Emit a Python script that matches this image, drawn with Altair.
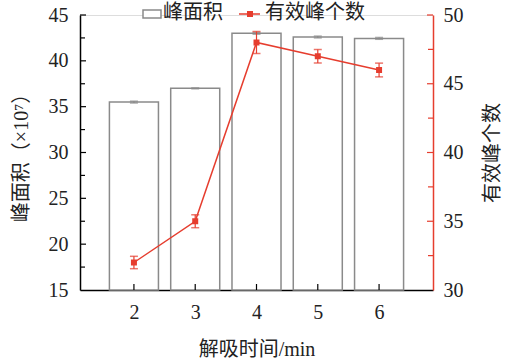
import altair as alt
import pandas as pd

# ---- data ----
times = [2, 3, 4, 5, 6]
area = [35.5, 37.0, 43.0, 42.6, 42.45]
area_err = [0.1, 0.05, 0.1, 0.1, 0.1]
peaks = [32.0, 35.0, 48.0, 47.0, 46.0]
peaks_err = [0.45, 0.47, 0.8, 0.49, 0.5]
left_major = [20, 25, 30, 35, 40, 45]
left_minor = [17.5, 22.5, 27.5, 32.5, 37.5, 42.5]
right_major = [35, 40, 45, 50]
right_minor = [32.5, 37.5, 42.5, 47.5]
legend_labels = ["峰面积", "有效峰个数"]

RED = "#e63d2e"
GRAY = "#8a8a8a"
FONT = "Liberation Serif, Noto Sans CJK SC"
W, H = 353, 275
XDOM = [1.12, 6.88]
BW = 0.4

df = pd.DataFrame({
    "t": times,
    "area": area,
    "area_lo": [a - e for a, e in zip(area, area_err)],
    "area_hi": [a + e for a, e in zip(area, area_err)],
    "peaks": peaks,
    "pk_lo": [p - e for p, e in zip(peaks, peaks_err)],
    "pk_hi": [p + e for p, e in zip(peaks, peaks_err)],
})
df["x0"] = df["t"] - BW
df["x1"] = df["t"] + BW

xscale = alt.Scale(domain=XDOM, nice=False, zero=False)
yl = alt.Scale(domain=[15, 45], nice=False, zero=False)
yr = alt.Scale(domain=[30, 50], nice=False, zero=False)

X_AX = alt.Axis(values=times, title="解吸时间/min", ticks=False, grid=False,
                domainColor="black", domainWidth=1.5, labelFont=FONT, labelFontSize=20,
                labelColor="#222", labelPadding=12, titleFont=FONT, titleFontSize=20,
                titleFontWeight="normal", titleColor="#222", titlePadding=17)
YL_AX = alt.Axis(values=[15, 20, 25, 30, 35, 40, 45], title="峰面积（×10⁷）", ticks=False,
                 grid=False, domainColor="black", domainWidth=1.5, labelFont=FONT,
                 labelFontSize=20, labelColor="#222", labelPadding=12, titleFont=FONT,
                 titleFontSize=20, titleFontWeight="normal", titleColor="#222", titlePadding=17)
YR_AX = alt.Axis(orient="right", values=[30, 35, 40, 45, 50], title="有效峰个数", ticks=False,
                 grid=False, domainColor=RED, domainWidth=1.5, labelFont=FONT, labelFontSize=20,
                 labelColor="#222", labelPadding=10, titleFont=FONT, titleFontSize=20,
                 titleFontWeight="normal", titleColor="#222", titlePadding=39, titleAngle=270)


def X(f):
    return alt.X(f, scale=xscale, axis=X_AX, title="解吸时间/min")


def YL(f):
    return alt.Y(f, scale=yl, axis=YL_AX, title="峰面积（×10⁷）")


def YR(f):
    return alt.Y(f, scale=yr, axis=YR_AX, title="有效峰个数")


base = alt.Chart(df)

bars = base.mark_bar(fill="white", stroke=GRAY, strokeWidth=1.5).encode(
    x=X("x0:Q"), x2="x1", y=YL("area:Q"), y2=alt.Y2(datum=15))
bar_err = base.mark_rule(color=GRAY, strokeWidth=1.2).encode(
    x=X("t:Q"), y=YL("area_lo:Q"), y2="area_hi")
bar_cap_hi = base.mark_tick(color=GRAY, orient="horizontal", size=8, thickness=1.5).encode(
    x=X("t:Q"), y=YL("area_hi:Q"))
bar_cap_lo = base.mark_tick(color=GRAY, orient="horizontal", size=8, thickness=1.5).encode(
    x=X("t:Q"), y=YL("area_lo:Q"))

lmaj = alt.Chart(pd.DataFrame({"v": left_major})).mark_rule(color="black", strokeWidth=1.2).encode(
    x=alt.value(0), x2=alt.value(6), y=YL("v:Q"))
lmin = alt.Chart(pd.DataFrame({"v": left_minor})).mark_rule(color="black", strokeWidth=1.2).encode(
    x=alt.value(0), x2=alt.value(5), y=YL("v:Q"))
xt = alt.Chart(pd.DataFrame({"v": times})).mark_rule(color="black", strokeWidth=1.2).encode(
    x=X("v:Q"), y=alt.value(H), y2=alt.value(H - 6))

# legend
leg = pd.DataFrame({"label": legend_labels})
leg_box = alt.Chart(leg.head(1)).mark_rect(fill="white", stroke=GRAY, strokeWidth=1.5).encode(
    x=alt.value(63), x2=alt.value(81), y=alt.value(-5), y2=alt.value(3))
leg_t1 = alt.Chart(leg.head(1)).mark_text(align="left", baseline="middle", font=FONT,
                                          fontSize=20, color="#222").encode(
    x=alt.value(83), y=alt.value(-2), text="label:N")
leg_line = alt.Chart(leg.tail(1)).mark_rule(color=RED, strokeWidth=1.5).encode(
    x=alt.value(159), x2=alt.value(180), y=alt.value(-1))
leg_pt = alt.Chart(leg.tail(1)).mark_square(color=RED, size=36, opacity=1).encode(
    x=alt.value(170), y=alt.value(-1))
leg_t2 = alt.Chart(leg.tail(1)).mark_text(align="left", baseline="middle", font=FONT,
                                          fontSize=20, color="#222").encode(
    x=alt.value(185), y=alt.value(-2), text="label:N")

left = alt.layer(bars, bar_err, bar_cap_hi, bar_cap_lo, lmaj, lmin, xt,
                 leg_box, leg_t1, leg_line, leg_pt, leg_t2)

line = base.mark_line(color=RED, strokeWidth=1.5).encode(x=X("t:Q"), y=YR("peaks:Q"))
pts = base.mark_square(color=RED, size=36, opacity=1).encode(x=X("t:Q"), y=YR("peaks:Q"))
pk_err = base.mark_rule(color=RED, strokeWidth=1.2).encode(
    x=X("t:Q"), y=YR("pk_lo:Q"), y2="pk_hi")
pk_cap_hi = base.mark_tick(color=RED, orient="horizontal", size=8, thickness=1.5).encode(
    x=X("t:Q"), y=YR("pk_hi:Q"))
pk_cap_lo = base.mark_tick(color=RED, orient="horizontal", size=8, thickness=1.5).encode(
    x=X("t:Q"), y=YR("pk_lo:Q"))
rmaj = alt.Chart(pd.DataFrame({"v": right_major})).mark_rule(color=RED, strokeWidth=1.2).encode(
    x=alt.value(W - 6), x2=alt.value(W), y=YR("v:Q"))
rmin = alt.Chart(pd.DataFrame({"v": right_minor})).mark_rule(color=RED, strokeWidth=1.2).encode(
    x=alt.value(W - 5), x2=alt.value(W), y=YR("v:Q"))

right = alt.layer(line, pk_err, pk_cap_hi, pk_cap_lo, pts, rmaj, rmin)

chart = alt.layer(left, right).resolve_scale(y="independent").properties(
    width=W, height=H,
    autosize=alt.AutoSizeParams(type="none"),
    padding={"left": 80, "top": 15, "right": 72, "bottom": 72},
).configure_view(stroke=None).configure(background="white")

chart.save("out.html", embed_options={"renderer": "svg", "actions": False})
